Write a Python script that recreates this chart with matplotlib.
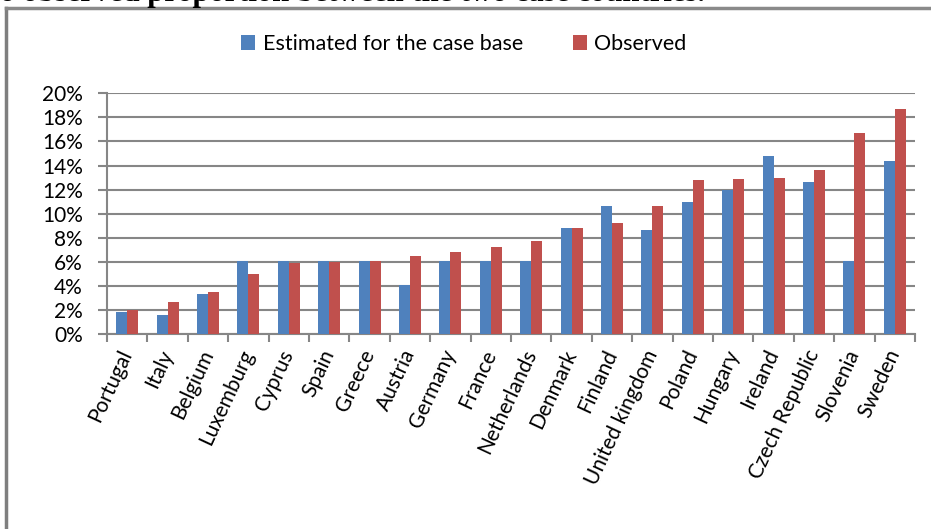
import numpy as np
import matplotlib.pyplot as plt
from matplotlib.lines import Line2D
from matplotlib.ticker import FixedLocator, PercentFormatter

plt.rcParams['font.family'] = ['Lato', 'DejaVu Sans']

countries = ["Portugal", "Italy", "Belgium", "Luxemburg", "Cyprus", "Spain",
             "Greece", "Austria", "Germany", "France", "Netherlands", "Denmark",
             "Finland", "United kingdom", "Poland", "Hungary", "Ireland",
             "Czech Republic", "Slovenia", "Sweden"]
estimated = [1.8, 1.6, 3.3, 6.1, 6.1, 6.1, 6.1, 4.1, 6.1, 6.1, 6.1, 8.8,
             10.6, 8.6, 11.0, 12.0, 14.8, 12.6, 6.1, 14.4]
observed = [2.0, 2.7, 3.5, 5.0, 5.9, 6.0, 6.1, 6.5, 6.8, 7.2, 7.7, 8.8,
            9.2, 10.6, 12.8, 12.9, 13.0, 13.6, 16.7, 18.7]
yticks = [0, 2, 4, 6, 8, 10, 12, 14, 16, 18, 20]

BLUE = "#4F81BD"
RED = "#C0504D"
GRID = "#868686"

fig = plt.figure(figsize=(9.31, 5.29), dpi=100)
ax = fig.add_axes([107 / 931, 1 - 334 / 529, (915 - 107) / 931, (334 - 93.3) / 529])

x = np.arange(len(countries))
w = 0.27
ax.bar(x - w / 2, estimated, width=w, color=BLUE, label="Estimated for the case base", zorder=3)
ax.bar(x + w / 2, observed, width=w, color=RED, label="Observed", zorder=3)

ax.set_xlim(-0.5, len(countries) - 0.5)
ax.set_ylim(0, 20)
ax.set_yticks(yticks)
ax.yaxis.set_major_formatter(PercentFormatter(decimals=0))
ax.grid(axis="y", color=GRID, linewidth=1.5, zorder=0)

# category labels at centres, tick marks at the boundaries
ax.set_xticks(x)
ax.set_xticklabels(countries, rotation=65, ha="right", va="center",
                   rotation_mode="anchor", fontsize=15)
ax.xaxis.set_minor_locator(FixedLocator(np.arange(len(countries) + 1) - 0.5))
ax.tick_params(axis="x", which="major", length=0, pad=12)
ax.tick_params(axis="x", which="minor", length=6, width=1.5, color=GRID)
ax.tick_params(axis="y", length=6.5, width=1.5, color=GRID, labelsize=15, pad=11)

for side in ["top", "right"]:
    ax.spines[side].set_visible(False)
for side in ["left", "bottom"]:
    ax.spines[side].set_color(GRID)
    ax.spines[side].set_linewidth(1.5)

fig.legend(loc="center", bbox_to_anchor=(464 / 931, 1 - 44 / 529), ncol=2,
           frameon=False, fontsize=15.5, handlelength=0.65, handleheight=0.65,
           handletextpad=0.35, columnspacing=2.3)

# surrounding frame and the caption line cut off above it
fig.add_artist(Line2D([6 / 931, 6 / 931], [0, 1 - 8 / 529], color="#7f7f7f", linewidth=2.5))
fig.add_artist(Line2D([6 / 931, 1], [1 - 8 / 529, 1 - 8 / 529], color="#8a8a8a", linewidth=2.5))
fig.text(0.0, 1 - 0.7 / 529, "o observed proportion between the two case countries.",
         family="Liberation Serif", fontweight="bold", fontsize=22, va="baseline")

fig.savefig("out.png", dpi=100)
